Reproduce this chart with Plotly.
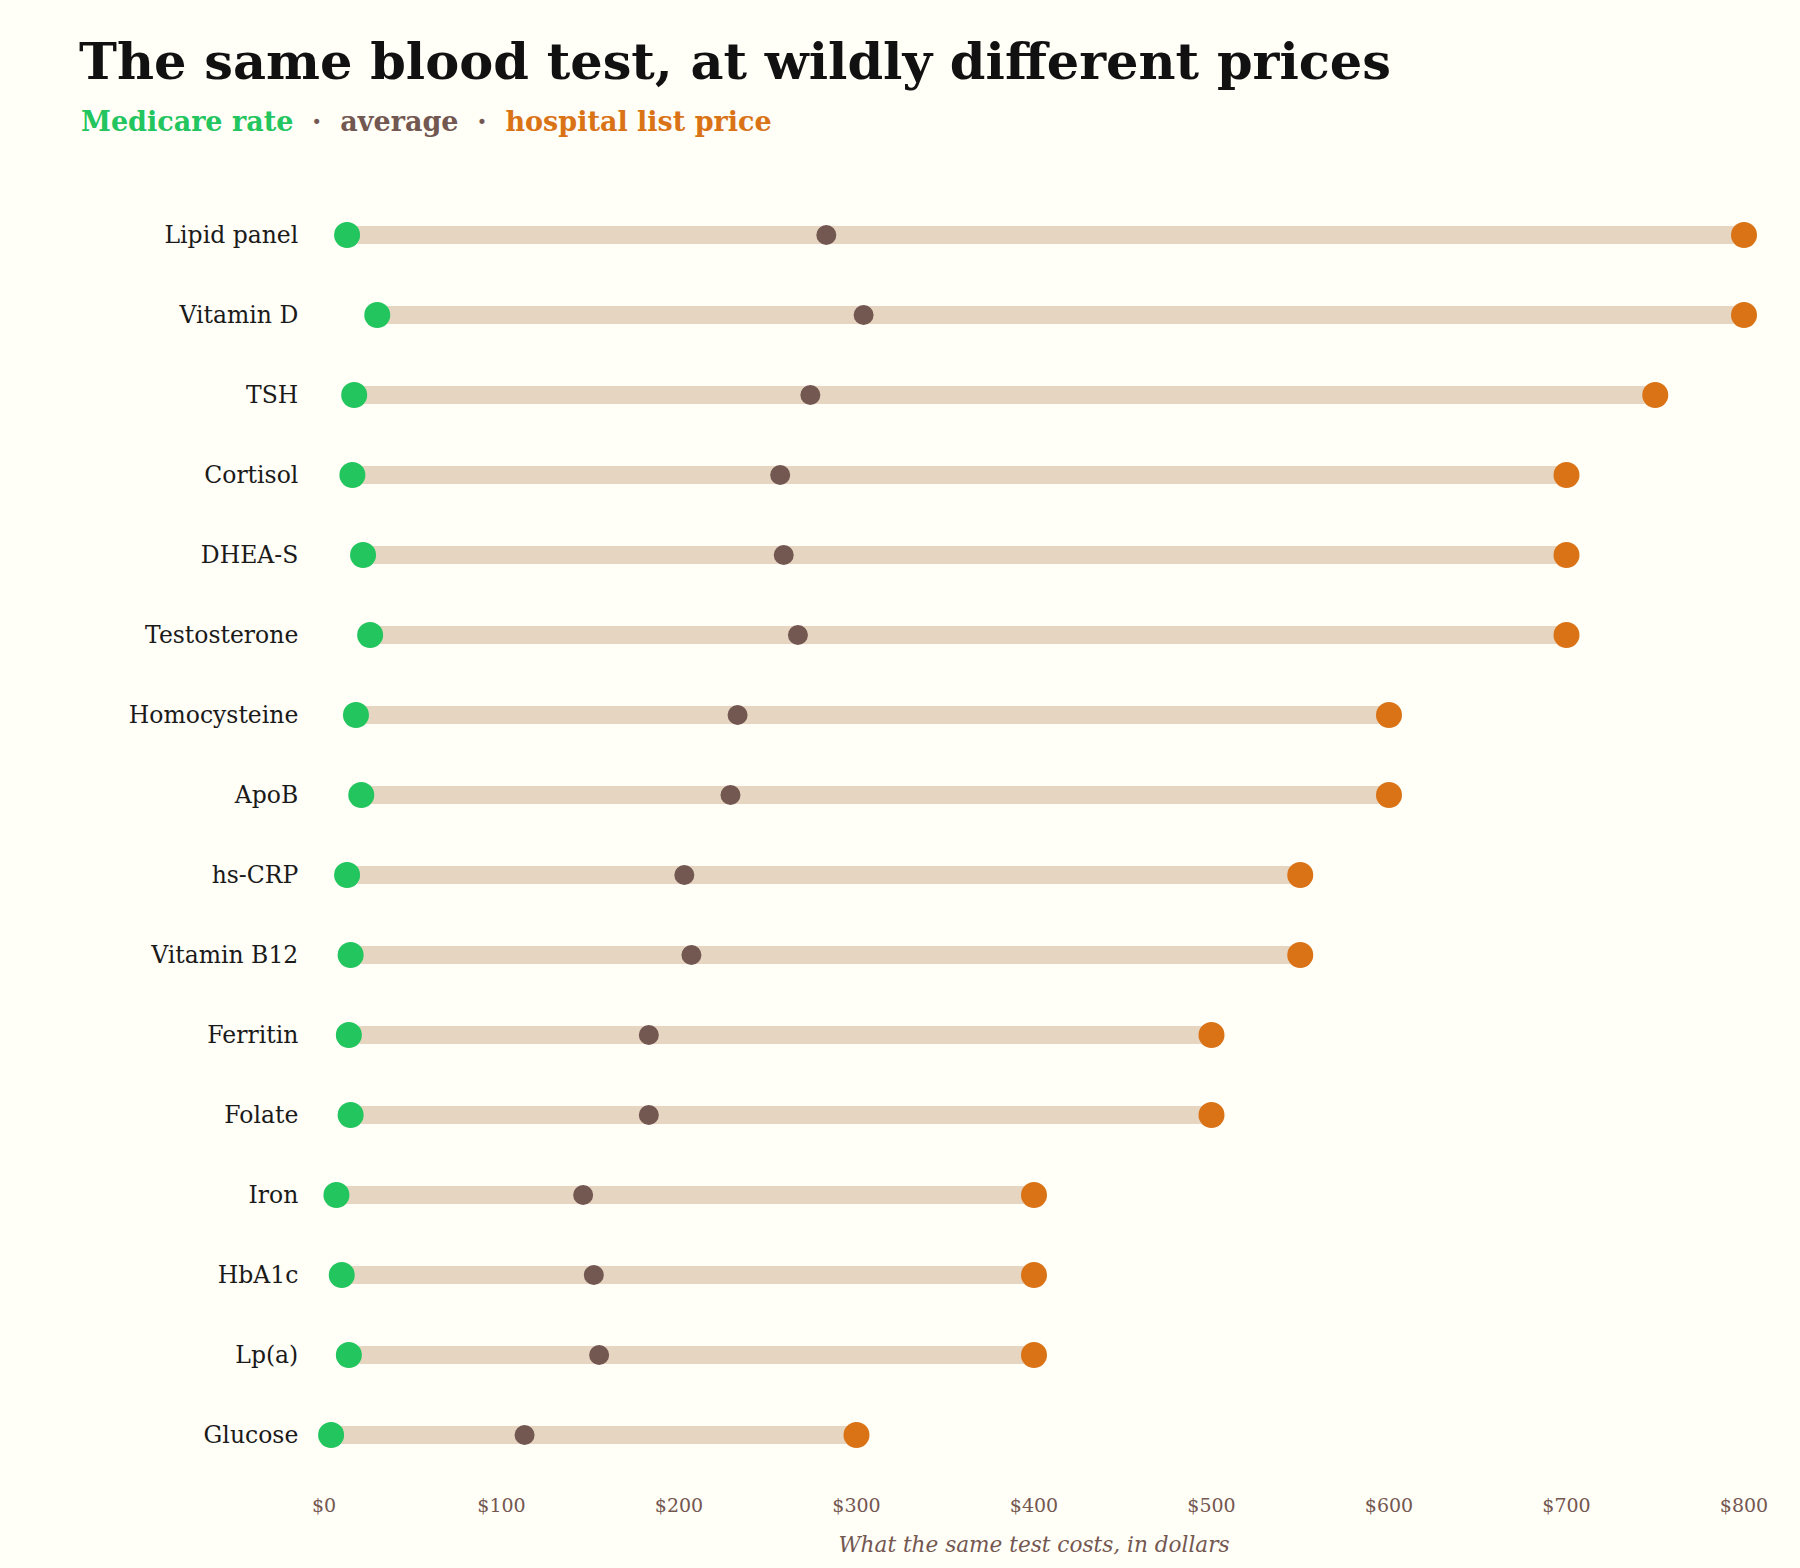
import plotly.graph_objects as go

tests = ["Lipid panel", "Vitamin D", "TSH", "Cortisol", "DHEA-S", "Testosterone",
         "Homocysteine", "ApoB", "hs-CRP", "Vitamin B12", "Ferritin", "Folate",
         "Iron", "HbA1c", "Lp(a)", "Glucose"]
medicare = [13, 30, 17, 16, 22, 26, 18, 21, 13, 15, 14, 15, 7, 10, 14, 4]
average = [283, 304, 274, 257, 259, 267, 233, 229, 203, 207, 183, 183, 146, 152, 155, 113]
hospital = [800, 800, 750, 700, 700, 700, 600, 600, 550, 550, 500, 500, 400, 400, 400, 300]
x_ticks = [0, 100, 200, 300, 400, 500, 600, 700, 800]
x_tick_labels = ["$" + str(v) for v in x_ticks]

BG = "#fffef7"
GREEN = "#22c55e"
BROWN = "#735751"
ORANGE = "#d97316"
BAR = "#e6d5c1"
FONT = "Georgia, 'DejaVu Serif', serif"

W, H = 1800, 1568
L, R = 323.6, 56
T, B = 195.3, 93

bx, by = [], []
for t, lo, hi in zip(tests, medicare, hospital):
    bx += [lo, hi, None]
    by += [t, t, None]

fig = go.Figure()
fig.add_trace(go.Scatter(x=bx, y=by, mode="lines", line=dict(color=BAR, width=18),
                         hoverinfo="skip", showlegend=False, cliponaxis=False))
fig.add_trace(go.Scatter(x=average, y=tests, mode="markers", name="average",
                         marker=dict(color=BROWN, size=20, line=dict(width=0)),
                         showlegend=False, cliponaxis=False))
fig.add_trace(go.Scatter(x=medicare, y=tests, mode="markers", name="Medicare rate",
                         marker=dict(color=GREEN, size=26, line=dict(width=0)),
                         showlegend=False, cliponaxis=False))
fig.add_trace(go.Scatter(x=hospital, y=tests, mode="markers", name="hospital list price",
                         marker=dict(color=ORANGE, size=26, line=dict(width=0)),
                         showlegend=False, cliponaxis=False))

plot_w = W - L - R
plot_h = H - T - B

fig.update_layout(
    width=W, height=H,
    margin=dict(l=L, r=R, t=T, b=B, autoexpand=False),
    paper_bgcolor=BG, plot_bgcolor=BG,
    font=dict(family=FONT, color="#1a1a1a"),
    title=dict(text="<b>The same blood test, at wildly different prices</b>",
               font=dict(family=FONT, size=51, color="#111111"),
               xref="container", x=79 / W, xanchor="left",
               yref="container", y=1 - 61 / H, yanchor="middle"),
    xaxis=dict(range=[0, 800], tickvals=x_ticks, ticktext=x_tick_labels,
               showgrid=False, zeroline=False, showline=False,
               tickfont=dict(family=FONT, size=19, color=BROWN),
               ticks="outside", ticklen=13, tickcolor="rgba(0,0,0,0)",
               title=dict(text="<i>What the same test costs, in dollars</i>",
                          font=dict(family=FONT, size=21.6, color=BROWN), standoff=22)),
    yaxis=dict(categoryorder="array", categoryarray=tests, range=[15.5, -0.5],
               showgrid=False, zeroline=False, showline=False,
               tickfont=dict(family=FONT, size=23.5, color="#1a1a1a"),
               ticks="outside", ticklen=20, tickcolor="rgba(0,0,0,0)"),
    annotations=[dict(
        text=("<b><span style='color:%s'>Medicare rate</span>"
              "<span style='color:%s'>  ·  </span>"
              "<span style='color:%s'>average</span>"
              "<span style='color:%s'>  ·  </span>"
              "<span style='color:%s'>hospital list price</span></b>") % (GREEN, BROWN, BROWN, BROWN, ORANGE),
        xref="paper", yref="paper", x=(79 - L) / plot_w, y=(H - B - 122) / plot_h,
        xanchor="left", yanchor="middle", showarrow=False,
        font=dict(family=FONT, size=27))],
)

fig.write_html("out.html")
